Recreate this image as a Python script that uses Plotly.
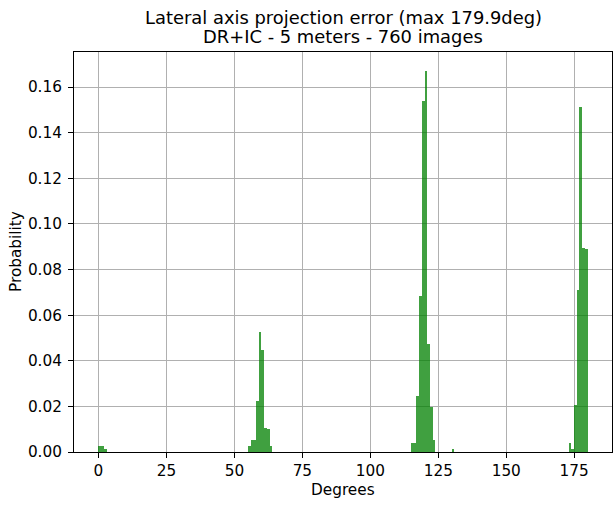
import plotly.graph_objects as go

# Histogram data (bins of ~1 degree, density normalised)
bin_start_deg = [0, 1, 2,
                 55, 56, 57, 58, 59, 60, 61, 62, 63,
                 115, 116, 117, 118, 119, 120, 121, 122, 123,
                 130,
                 173, 174, 175, 176, 177, 178, 179]
probability = [0.0026, 0.0026, 0.0013,
               0.0026, 0.0053, 0.0053, 0.0224, 0.0526, 0.0447, 0.0105, 0.0099, 0.0026,
               0.0039, 0.0039, 0.0244, 0.0684, 0.1539, 0.1671, 0.0474, 0.0197, 0.0053,
               0.0013,
               0.0039, 0.0013, 0.0207, 0.0711, 0.1513, 0.0895, 0.0890]
bin_width = 179.9 / 180

x_ticks = [0, 25, 50, 75, 100, 125, 150, 175]
y_ticks = [0.00, 0.02, 0.04, 0.06, 0.08, 0.10, 0.12, 0.14, 0.16]

title_line1 = "Lateral axis projection error (max 179.9deg)"
title_line2 = "DR+IC - 5 meters - 760 images"

centers = [b * bin_width + bin_width / 2 for b in bin_start_deg]

fig = go.Figure(go.Bar(
    x=centers, y=probability, width=[bin_width] * len(centers),
    marker=dict(color="rgba(0,128,0,0.75)", line=dict(width=0)),
    hoverinfo="x+y",
))

font = "DejaVu Sans, Verdana, sans-serif"
axis_common = dict(
    showline=True, mirror=True, linecolor="black", linewidth=1,
    ticks="outside", ticklen=5, tickwidth=1, tickcolor="black",
    showgrid=True, gridcolor="#b0b0b0", gridwidth=1,
    zeroline=False, layer="above traces",
    tickfont=dict(family=font, size=15.3, color="black"),
)

fig.update_layout(
    width=613, height=505,
    margin=dict(l=74, r=1, t=52, b=52.5),
    paper_bgcolor="white", plot_bgcolor="white",
    showlegend=False,
    bargap=0,
    xaxis=dict(range=[-9.0, 188.9], tickvals=x_ticks, ticktext=[str(v) for v in x_ticks],
               ticklabelstandoff=0, **axis_common),
    yaxis=dict(range=[0, 0.1754], tickvals=y_ticks, ticktext=[f"{v:.2f}" for v in y_ticks],
               ticklabelstandoff=3, **axis_common),
    annotations=[
        dict(text=title_line1, xref="paper", yref="paper", x=0.5, y=1.0862, xanchor="center", yanchor="middle",
             showarrow=False, font=dict(family=font, size=17.9, color="black")),
        dict(text=title_line2, xref="paper", yref="paper", x=0.5, y=1.0375, xanchor="center", yanchor="middle",
             showarrow=False, font=dict(family=font, size=17.9, color="black")),
        dict(text="Degrees", xref="paper", yref="paper", x=0.5, y=-0.0962, xanchor="center", yanchor="middle",
             showarrow=False, font=dict(family=font, size=15.3, color="black")),
        dict(text="Probability", xref="paper", yref="paper", x=-0.1078, y=0.5, xanchor="center", yanchor="middle",
             textangle=-90, showarrow=False, font=dict(family=font, size=15.3, color="black")),
    ],
)

fig.write_html("out.html", config={"displayModeBar": False},
               post_script="document.body.style.margin='0';")
